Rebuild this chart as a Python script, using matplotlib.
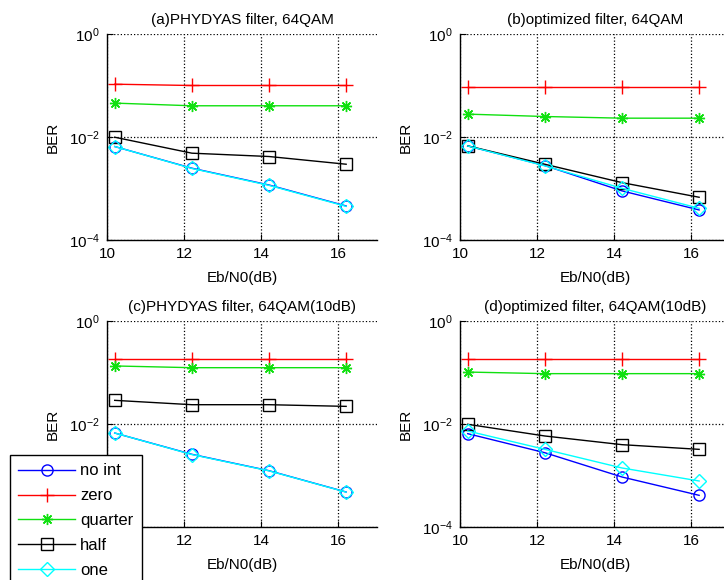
import matplotlib
matplotlib.use("Agg")
import matplotlib.pyplot as plt
from matplotlib.ticker import FixedLocator, FixedFormatter, NullLocator

plt.rcParams['font.family'] = ['Liberation Sans', 'DejaVu Sans']
plt.rcParams['mathtext.fontset'] = 'custom'
plt.rcParams['mathtext.rm'] = 'Liberation Sans'

x = [10.2, 12.2, 14.2, 16.2]
labels = ['no int', 'zero', 'quarter', 'half', 'one']
titles = ['(a)PHYDYAS filter, 64QAM', '(b)optimized filter, 64QAM',
          '(c)PHYDYAS filter, 64QAM(10dB)', '(d)optimized filter, 64QAM(10dB)']

# BER values per panel: no int, zero, quarter, half, one
a_noint = [0.00653, 0.00248, 0.00117, 0.000458]
a_zero = [0.106, 0.100, 0.100, 0.100]
a_quarter = [0.0455, 0.0404, 0.0404, 0.0404]
a_half = [0.0099, 0.00485, 0.00418, 0.00296]
a_one = [0.00653, 0.00245, 0.00115, 0.000450]

b_noint = [0.0067, 0.00279, 0.000898, 0.000383]
b_zero = [0.093, 0.093, 0.093, 0.093]
b_quarter = [0.0278, 0.025, 0.0232, 0.0232]
b_half = [0.00673, 0.00296, 0.0013, 0.000676]
b_one = [0.0067, 0.00275, 0.00101, 0.000413]

c_noint = [0.00668, 0.00258, 0.00124, 0.000478]
c_zero = [0.186, 0.186, 0.186, 0.186]
c_quarter = [0.134, 0.124, 0.124, 0.124]
c_half = [0.0288, 0.0237, 0.0237, 0.022]
c_one = [0.00668, 0.00255, 0.00123, 0.000475]

d_noint = [0.00649, 0.00277, 0.000935, 0.000412]
d_zero = [0.186, 0.186, 0.186, 0.186]
d_quarter = [0.102, 0.095, 0.095, 0.095]
d_half = [0.00986, 0.00585, 0.00397, 0.00322]
d_one = [0.00731, 0.00322, 0.0014, 0.000782]

panels = [
    [a_noint, a_zero, a_quarter, a_half, a_one],
    [b_noint, b_zero, b_quarter, b_half, b_one],
    [c_noint, c_zero, c_quarter, c_half, c_one],
    [d_noint, d_zero, d_quarter, d_half, d_one],
]

styles = [
    dict(color=(0, 0, 1), marker='o'),
    dict(color=(1, 0, 0), marker='+'),
    dict(color='#10e010', marker=(8, 2, 0)),
    dict(color='k', marker='s'),
    dict(color=(0, 1, 1), marker='D'),
]

W, H = 724, 580
fig = plt.figure(figsize=(W / 100, H / 100), dpi=100)

positions = [
    (107, 34), (460, 34), (107, 321), (460, 321)
]
aw, ah = 270, 206

axes = []
for i, (px, py) in enumerate(positions):
    ax = fig.add_axes([px / W, 1 - (py + ah) / H, aw / W, ah / H])
    axes.append(ax)
    for j, (vals, st) in enumerate(zip(panels[i], styles)):
        ms = 8
        if st['marker'] == 'D':
            ms = 7
        if st['marker'] == '+':
            ms = 10
        ax.plot(x, vals, color=st['color'], marker=st['marker'], markersize=ms,
                markerfacecolor='none', markeredgecolor=st['color'],
                markeredgewidth=1.0, linewidth=1.0, label=labels[j])
    ax.set_yscale('log')
    ax.set_xlim(10, 17)
    ax.set_ylim(1e-4, 1)
    ax.xaxis.set_major_locator(FixedLocator([10, 12, 14, 16]))
    ax.yaxis.set_major_locator(FixedLocator([1e-4, 1e-2, 1]))
    ax.yaxis.set_major_formatter(FixedFormatter([r'$\mathregular{10^{-4}}$',
                                                 r'$\mathregular{10^{-2}}$',
                                                 r'$\mathregular{10^{0}}$']))
    ax.yaxis.set_minor_locator(NullLocator())
    ax.tick_params(direction='in', labelsize=11, length=4, width=0.8, pad=5)
    ax.grid(True, which='major', color='k', linestyle=':', linewidth=0.9)
    for s in ['top', 'right']:
        ax.spines[s].set_visible(False)
    for s in ['left', 'bottom']:
        ax.spines[s].set_linewidth(1.0)
    ax.set_title(titles[i], fontsize=11, pad=7)
    ax.set_xlabel('Eb/N0(dB)', fontsize=11, labelpad=7.5)
    ax.set_ylabel('BER', fontsize=11, labelpad=7)

leg = axes[2].legend(loc='upper left', bbox_to_anchor=(10 / W, 1 - 455 / H),
                     bbox_transform=fig.transFigure, fontsize=12, frameon=True,
                     fancybox=False, edgecolor='k', framealpha=1,
                     handlelength=3.4, handletextpad=0.3, labelspacing=0.6,
                     borderpad=0.5, borderaxespad=0)
leg.get_frame().set_linewidth(1.0)

fig.savefig('out.png', dpi=100)
